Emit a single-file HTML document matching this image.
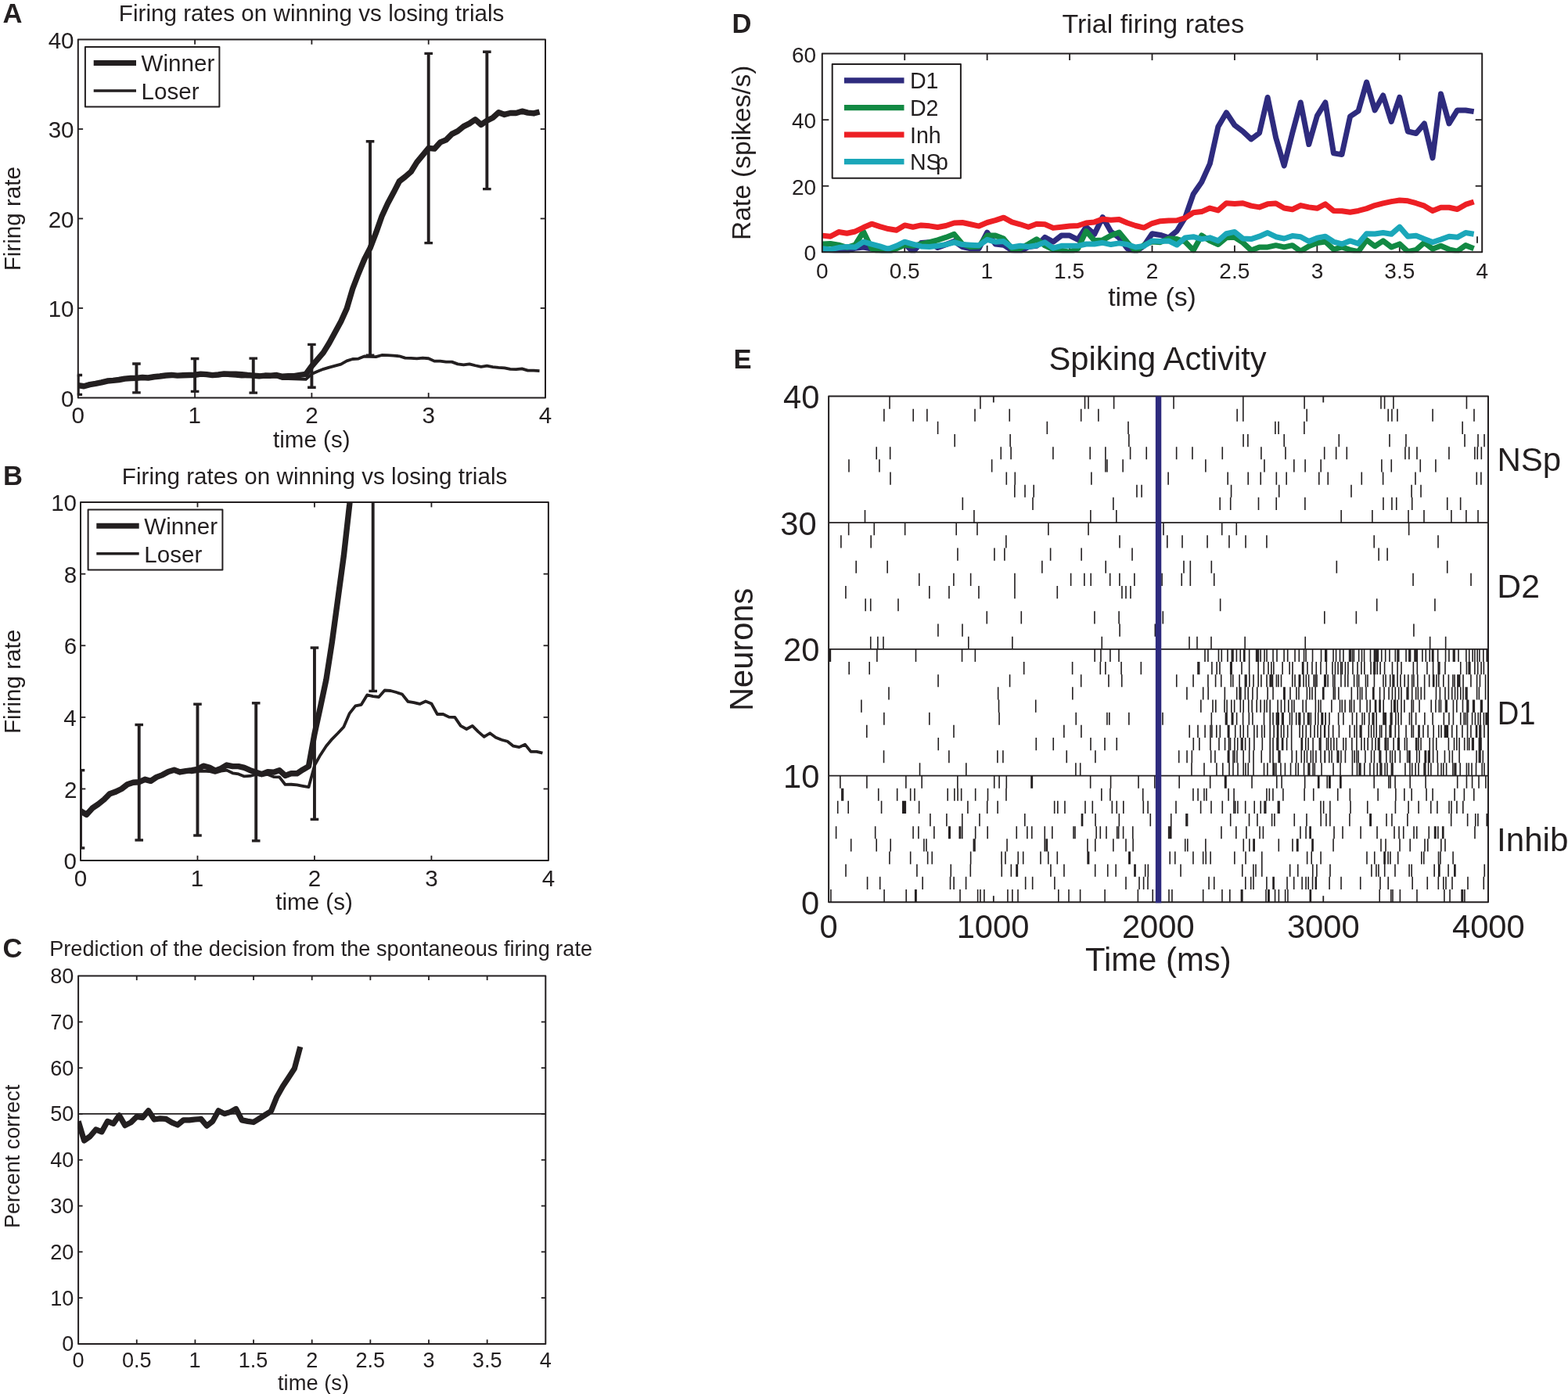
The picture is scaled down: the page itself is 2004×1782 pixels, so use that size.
<!DOCTYPE html>
<html lang="en"><head><meta charset="utf-8"><title>Figure</title>
<style>html,body{margin:0;padding:0;background:#fff}svg{display:block}text{font-family:'Liberation Sans', sans-serif;fill:#231f20}</style>
</head><body>
<svg width="2004" height="1782" viewBox="0 0 2004 1782">
<rect x="0" y="0" width="2004" height="1782" fill="#fff"/>
<defs>
<clipPath id="ca"><rect x="98.8" y="49.5" width="599.2" height="459.9"/></clipPath>
<clipPath id="cb"><rect x="102" y="641.1" width="599.9" height="459.95"/></clipPath>
<clipPath id="cc"><rect x="99.1" y="1246.6" width="599.2" height="472.3"/></clipPath>
<clipPath id="cd"><rect x="1049.8" y="67.6" width="845.4" height="255.75"/></clipPath>
<clipPath id="ce"><rect x="1059.1" y="506.5" width="842.9" height="646.7"/></clipPath>
</defs>
<text x="3.43" y="28.5" font-size="34.6" font-weight="bold" fill="#0a0a0a">A</text>
<text x="151.85" y="27.1" font-size="29.6" textLength="492.55" lengthAdjust="spacingAndGlyphs">Firing rates on winning vs losing trials</text>
<line x1="249.1" y1="508.4" x2="249.1" y2="502.1" stroke="#231f20" stroke-width="1.8" stroke-linecap="butt"/>
<line x1="249.1" y1="50.5" x2="249.1" y2="56.8" stroke="#231f20" stroke-width="1.8" stroke-linecap="butt"/>
<line x1="398.4" y1="508.4" x2="398.4" y2="502.1" stroke="#231f20" stroke-width="1.8" stroke-linecap="butt"/>
<line x1="398.4" y1="50.5" x2="398.4" y2="56.8" stroke="#231f20" stroke-width="1.8" stroke-linecap="butt"/>
<line x1="547.7" y1="508.4" x2="547.7" y2="502.1" stroke="#231f20" stroke-width="1.8" stroke-linecap="butt"/>
<line x1="547.7" y1="50.5" x2="547.7" y2="56.8" stroke="#231f20" stroke-width="1.8" stroke-linecap="butt"/>
<line x1="99.8" y1="393.92" x2="106.1" y2="393.92" stroke="#231f20" stroke-width="1.8" stroke-linecap="butt"/>
<line x1="697" y1="393.92" x2="690.7" y2="393.92" stroke="#231f20" stroke-width="1.8" stroke-linecap="butt"/>
<line x1="99.8" y1="279.45" x2="106.1" y2="279.45" stroke="#231f20" stroke-width="1.8" stroke-linecap="butt"/>
<line x1="697" y1="279.45" x2="690.7" y2="279.45" stroke="#231f20" stroke-width="1.8" stroke-linecap="butt"/>
<line x1="99.8" y1="164.98" x2="106.1" y2="164.98" stroke="#231f20" stroke-width="1.8" stroke-linecap="butt"/>
<line x1="697" y1="164.98" x2="690.7" y2="164.98" stroke="#231f20" stroke-width="1.8" stroke-linecap="butt"/>
<g clip-path="url(#ca)">
<line x1="99.8" y1="504.39" x2="99.8" y2="479.55" stroke="#231f20" stroke-width="3.9" stroke-linecap="butt"/>
<line x1="94.5" y1="504.39" x2="105.1" y2="504.39" stroke="#231f20" stroke-width="3.4" stroke-linecap="butt"/>
<line x1="94.5" y1="479.55" x2="105.1" y2="479.55" stroke="#231f20" stroke-width="3.4" stroke-linecap="butt"/>
</g>
<g clip-path="url(#ca)">
<line x1="174.45" y1="501.87" x2="174.45" y2="465.01" stroke="#231f20" stroke-width="3.9" stroke-linecap="butt"/>
<line x1="169.15" y1="501.87" x2="179.75" y2="501.87" stroke="#231f20" stroke-width="3.4" stroke-linecap="butt"/>
<line x1="169.15" y1="465.01" x2="179.75" y2="465.01" stroke="#231f20" stroke-width="3.4" stroke-linecap="butt"/>
</g>
<g clip-path="url(#ca)">
<line x1="249.1" y1="500.39" x2="249.1" y2="458.43" stroke="#231f20" stroke-width="3.9" stroke-linecap="butt"/>
<line x1="243.8" y1="500.39" x2="254.4" y2="500.39" stroke="#231f20" stroke-width="3.4" stroke-linecap="butt"/>
<line x1="243.8" y1="458.43" x2="254.4" y2="458.43" stroke="#231f20" stroke-width="3.4" stroke-linecap="butt"/>
</g>
<g clip-path="url(#ca)">
<line x1="323.75" y1="502.1" x2="323.75" y2="458.09" stroke="#231f20" stroke-width="3.9" stroke-linecap="butt"/>
<line x1="318.45" y1="502.1" x2="329.05" y2="502.1" stroke="#231f20" stroke-width="3.4" stroke-linecap="butt"/>
<line x1="318.45" y1="458.09" x2="329.05" y2="458.09" stroke="#231f20" stroke-width="3.4" stroke-linecap="butt"/>
</g>
<g clip-path="url(#ca)">
<line x1="398.4" y1="495.24" x2="398.4" y2="440.4" stroke="#231f20" stroke-width="3.9" stroke-linecap="butt"/>
<line x1="393.1" y1="495.24" x2="403.7" y2="495.24" stroke="#231f20" stroke-width="3.4" stroke-linecap="butt"/>
<line x1="393.1" y1="440.4" x2="403.7" y2="440.4" stroke="#231f20" stroke-width="3.4" stroke-linecap="butt"/>
</g>
<g clip-path="url(#ca)">
<line x1="473.05" y1="454.25" x2="473.05" y2="180.77" stroke="#231f20" stroke-width="3.9" stroke-linecap="butt"/>
<line x1="467.75" y1="454.25" x2="478.35" y2="454.25" stroke="#231f20" stroke-width="3.4" stroke-linecap="butt"/>
<line x1="467.75" y1="180.77" x2="478.35" y2="180.77" stroke="#231f20" stroke-width="3.4" stroke-linecap="butt"/>
</g>
<g clip-path="url(#ca)">
<line x1="547.7" y1="310.59" x2="547.7" y2="68.36" stroke="#231f20" stroke-width="3.9" stroke-linecap="butt"/>
<line x1="542.4" y1="310.59" x2="553" y2="310.59" stroke="#231f20" stroke-width="3.4" stroke-linecap="butt"/>
<line x1="542.4" y1="68.36" x2="553" y2="68.36" stroke="#231f20" stroke-width="3.4" stroke-linecap="butt"/>
</g>
<g clip-path="url(#ca)">
<line x1="622.35" y1="241.67" x2="622.35" y2="66.18" stroke="#231f20" stroke-width="3.9" stroke-linecap="butt"/>
<line x1="617.05" y1="241.67" x2="627.65" y2="241.67" stroke="#231f20" stroke-width="3.4" stroke-linecap="butt"/>
<line x1="617.05" y1="66.18" x2="627.65" y2="66.18" stroke="#231f20" stroke-width="3.4" stroke-linecap="butt"/>
</g>
<polyline points="99.8,492.55 107.27,493.75 114.73,491.69 122.2,490.43 129.66,488.94 137.12,487.05 144.59,486.42 152.06,485.5 159.52,484.07 166.99,483.44 174.45,483.33 181.92,482.47 189.38,482.99 196.85,481.73 204.31,481.04 211.78,480.01 219.24,479.44 226.71,480.12 234.17,479.78 241.63,480.24 249.1,479.9 256.56,479.78 264.03,479.9 271.5,480.35 278.96,479.78 286.43,479.55 293.89,480.47 301.36,480.75 308.82,481.5 316.29,481.38 323.75,480.87 331.22,481.15 338.68,480.87 346.15,481.67 353.61,481.73 361.08,484.13 368.54,484.07 376.01,484.25 383.47,484.59 390.94,484.93 398.4,478.06 405.87,474.69 413.33,471.83 420.8,469.59 428.26,467.7 435.73,465.7 443.19,461.35 450.66,459 458.12,458.6 465.59,455.51 473.05,455.91 480.52,456.14 487.98,454.02 495.45,454.14 502.91,454.65 510.38,455.28 517.84,457.63 525.31,457.92 532.77,458.37 540.24,457.52 547.7,458.26 555.17,461.64 562.63,461.64 570.1,462.55 577.56,462.61 585.02,465.36 592.49,466.39 599.96,465.36 607.42,467.25 614.88,468.85 622.35,467.7 629.82,469.08 637.28,469.82 644.75,470.34 652.21,471.83 659.67,472.17 667.14,471.31 674.61,473.6 682.07,473.6 689.54,474.06" fill="none" stroke="#231f20" stroke-width="3.8" stroke-linejoin="round" stroke-linecap="butt" clip-path="url(#ca)"/>
<polyline points="99.8,492.55 107.27,493.75 114.73,491.69 122.2,490.43 129.66,488.94 137.12,487.05 144.59,486.42 152.06,485.5 159.52,484.07 166.99,483.44 174.45,483.33 181.92,482.47 189.38,482.99 196.85,481.73 204.31,481.04 211.78,480.01 219.24,479.44 226.71,480.12 234.17,479.78 241.63,479.55 249.1,479.27 256.56,478.18 264.03,478.64 271.5,479.67 278.96,478.98 286.43,477.89 293.89,478.29 301.36,478.29 308.82,478.75 316.29,479.55 323.75,480.18 331.22,480.81 338.68,480.07 346.15,480.18 353.61,479.55 361.08,481.27 368.54,480.58 376.01,480.58 383.47,479.38 390.94,478.29 398.4,467.99 405.87,459.4 413.33,450.59 420.8,438.57 428.26,424.83 435.73,411.1 443.19,394.5 450.66,369.2 458.12,349.74 465.59,331.77 473.05,317.11 480.52,297.65 487.98,276.47 495.45,260.22 502.91,246.37 510.38,231.71 517.84,225.99 525.31,219.47 532.77,207.33 540.24,198.4 547.7,189.36 555.17,190.16 562.63,181.92 570.1,178.83 577.56,171.39 585.02,167.61 592.49,161.66 599.96,157.88 607.42,152.73 614.88,159.37 622.35,154.21 629.82,150.44 637.28,143.68 644.75,146.43 652.21,144.48 659.67,144.48 667.14,142.19 674.61,144.14 682.07,144.94 689.54,143" fill="none" stroke="#231f20" stroke-width="7.4" stroke-linejoin="round" stroke-linecap="butt" clip-path="url(#ca)"/>
<rect x="99.8" y="50.5" width="597.2" height="457.9" fill="none" stroke="#231f20" stroke-width="2" stroke-linejoin="round"/>
<text x="91.55" y="541.4" font-size="29.6">0</text>
<text x="240.48" y="541.4" font-size="29.6">1</text>
<text x="390.19" y="541.4" font-size="29.6">2</text>
<text x="539.56" y="541.4" font-size="29.6">3</text>
<text x="688.86" y="541.4" font-size="29.6">4</text>
<text x="94.54" y="519.6" font-size="29.6" text-anchor="end">0</text>
<text x="94.58" y="405.12" font-size="29.6" text-anchor="end">10</text>
<text x="94.58" y="290.65" font-size="29.6" text-anchor="end">20</text>
<text x="94.58" y="176.18" font-size="29.6" text-anchor="end">30</text>
<text x="94.58" y="61.7" font-size="29.6" text-anchor="end">40</text>
<text x="25.8" y="346.34" font-size="29.6" transform="rotate(-90 25.8 346.34)" textLength="133.25" lengthAdjust="spacingAndGlyphs">Firing rate</text>
<text x="349.06" y="571.5" font-size="29.6" textLength="98.51" lengthAdjust="spacingAndGlyphs">time (s)</text>
<rect x="108.9" y="59.9" width="171.5" height="76.6" fill="#fff" stroke="#231f20" stroke-width="2" stroke-linejoin="round"/>
<line x1="119.7" y1="80.6" x2="174" y2="80.6" stroke="#231f20" stroke-width="7" stroke-linecap="butt"/>
<text x="180.6" y="90.9" font-size="29.6">Winner</text>
<line x1="119.7" y1="116" x2="174" y2="116" stroke="#231f20" stroke-width="3.6" stroke-linecap="butt"/>
<text x="180.6" y="126.9" font-size="29.6">Loser</text>
<text x="3.96" y="620.2" font-size="34.6" font-weight="bold" fill="#0a0a0a">B</text>
<text x="155.86" y="619" font-size="29.6" textLength="492.45" lengthAdjust="spacingAndGlyphs">Firing rates on winning vs losing trials</text>
<line x1="252.47" y1="1100.05" x2="252.47" y2="1093.75" stroke="#231f20" stroke-width="1.8" stroke-linecap="butt"/>
<line x1="252.47" y1="642.1" x2="252.47" y2="648.4" stroke="#231f20" stroke-width="1.8" stroke-linecap="butt"/>
<line x1="401.95" y1="1100.05" x2="401.95" y2="1093.75" stroke="#231f20" stroke-width="1.8" stroke-linecap="butt"/>
<line x1="401.95" y1="642.1" x2="401.95" y2="648.4" stroke="#231f20" stroke-width="1.8" stroke-linecap="butt"/>
<line x1="551.42" y1="1100.05" x2="551.42" y2="1093.75" stroke="#231f20" stroke-width="1.8" stroke-linecap="butt"/>
<line x1="551.42" y1="642.1" x2="551.42" y2="648.4" stroke="#231f20" stroke-width="1.8" stroke-linecap="butt"/>
<line x1="103" y1="1008.46" x2="109.3" y2="1008.46" stroke="#231f20" stroke-width="1.8" stroke-linecap="butt"/>
<line x1="700.9" y1="1008.46" x2="694.6" y2="1008.46" stroke="#231f20" stroke-width="1.8" stroke-linecap="butt"/>
<line x1="103" y1="916.87" x2="109.3" y2="916.87" stroke="#231f20" stroke-width="1.8" stroke-linecap="butt"/>
<line x1="700.9" y1="916.87" x2="694.6" y2="916.87" stroke="#231f20" stroke-width="1.8" stroke-linecap="butt"/>
<line x1="103" y1="825.28" x2="109.3" y2="825.28" stroke="#231f20" stroke-width="1.8" stroke-linecap="butt"/>
<line x1="700.9" y1="825.28" x2="694.6" y2="825.28" stroke="#231f20" stroke-width="1.8" stroke-linecap="butt"/>
<line x1="103" y1="733.69" x2="109.3" y2="733.69" stroke="#231f20" stroke-width="1.8" stroke-linecap="butt"/>
<line x1="700.9" y1="733.69" x2="694.6" y2="733.69" stroke="#231f20" stroke-width="1.8" stroke-linecap="butt"/>
<g clip-path="url(#cb)">
<line x1="103" y1="1084.02" x2="103" y2="984.65" stroke="#231f20" stroke-width="3.9" stroke-linecap="butt"/>
<line x1="97.7" y1="1084.02" x2="108.3" y2="1084.02" stroke="#231f20" stroke-width="3.4" stroke-linecap="butt"/>
<line x1="97.7" y1="984.65" x2="108.3" y2="984.65" stroke="#231f20" stroke-width="3.4" stroke-linecap="butt"/>
</g>
<g clip-path="url(#cb)">
<line x1="177.74" y1="1073.95" x2="177.74" y2="926.49" stroke="#231f20" stroke-width="3.9" stroke-linecap="butt"/>
<line x1="172.44" y1="1073.95" x2="183.04" y2="1073.95" stroke="#231f20" stroke-width="3.4" stroke-linecap="butt"/>
<line x1="172.44" y1="926.49" x2="183.04" y2="926.49" stroke="#231f20" stroke-width="3.4" stroke-linecap="butt"/>
</g>
<g clip-path="url(#cb)">
<line x1="252.47" y1="1067.99" x2="252.47" y2="900.15" stroke="#231f20" stroke-width="3.9" stroke-linecap="butt"/>
<line x1="247.17" y1="1067.99" x2="257.77" y2="1067.99" stroke="#231f20" stroke-width="3.4" stroke-linecap="butt"/>
<line x1="247.17" y1="900.15" x2="257.77" y2="900.15" stroke="#231f20" stroke-width="3.4" stroke-linecap="butt"/>
</g>
<g clip-path="url(#cb)">
<line x1="327.21" y1="1074.86" x2="327.21" y2="898.78" stroke="#231f20" stroke-width="3.9" stroke-linecap="butt"/>
<line x1="321.91" y1="1074.86" x2="332.51" y2="1074.86" stroke="#231f20" stroke-width="3.4" stroke-linecap="butt"/>
<line x1="321.91" y1="898.78" x2="332.51" y2="898.78" stroke="#231f20" stroke-width="3.4" stroke-linecap="butt"/>
</g>
<g clip-path="url(#cb)">
<line x1="401.95" y1="1047.39" x2="401.95" y2="828.03" stroke="#231f20" stroke-width="3.9" stroke-linecap="butt"/>
<line x1="396.65" y1="1047.39" x2="407.25" y2="1047.39" stroke="#231f20" stroke-width="3.4" stroke-linecap="butt"/>
<line x1="396.65" y1="828.03" x2="407.25" y2="828.03" stroke="#231f20" stroke-width="3.4" stroke-linecap="butt"/>
</g>
<g clip-path="url(#cb)">
<line x1="476.69" y1="883.44" x2="476.69" y2="-210.6" stroke="#231f20" stroke-width="3.9" stroke-linecap="butt"/>
<line x1="471.39" y1="883.44" x2="481.99" y2="883.44" stroke="#231f20" stroke-width="3.4" stroke-linecap="butt"/>
<line x1="471.39" y1="-210.6" x2="481.99" y2="-210.6" stroke="#231f20" stroke-width="3.4" stroke-linecap="butt"/>
</g>
<g clip-path="url(#cb)">
<line x1="551.42" y1="308.71" x2="551.42" y2="-660.31" stroke="#231f20" stroke-width="3.9" stroke-linecap="butt"/>
<line x1="546.12" y1="308.71" x2="556.72" y2="308.71" stroke="#231f20" stroke-width="3.4" stroke-linecap="butt"/>
<line x1="546.12" y1="-660.31" x2="556.72" y2="-660.31" stroke="#231f20" stroke-width="3.4" stroke-linecap="butt"/>
</g>
<g clip-path="url(#cb)">
<line x1="626.16" y1="33.03" x2="626.16" y2="-669.01" stroke="#231f20" stroke-width="3.9" stroke-linecap="butt"/>
<line x1="620.86" y1="33.03" x2="631.46" y2="33.03" stroke="#231f20" stroke-width="3.4" stroke-linecap="butt"/>
<line x1="620.86" y1="-669.01" x2="631.46" y2="-669.01" stroke="#231f20" stroke-width="3.4" stroke-linecap="butt"/>
</g>
<polyline points="103,1036.62 110.47,1041.43 117.95,1033.19 125.42,1028.15 132.9,1022.2 140.37,1014.64 147.84,1012.12 155.32,1008.46 162.79,1002.74 170.26,1000.22 177.74,999.76 185.21,996.32 192.69,998.39 200.16,993.35 207.63,990.6 215.11,986.48 222.58,984.19 230.05,986.94 237.53,985.56 245,987.39 252.47,986.02 259.95,985.56 267.42,986.02 274.9,987.85 282.37,985.56 289.84,984.65 297.32,988.31 304.79,989.46 312.26,992.43 319.74,991.97 327.21,989.91 334.69,991.06 342.16,989.91 349.63,993.12 357.11,993.35 364.58,1002.96 372.06,1002.74 379.53,1003.42 387,1004.8 394.48,1006.17 401.95,978.69 409.42,965.18 416.9,953.73 424.37,944.8 431.85,937.25 439.32,929.23 446.79,911.83 454.27,902.44 461.74,900.84 469.21,888.48 476.69,890.08 484.16,891 491.63,882.52 499.11,882.98 506.58,885.04 514.06,887.56 521.53,896.95 529,898.09 536.48,899.93 543.95,896.49 551.42,899.47 558.9,912.98 566.37,912.98 573.85,916.64 581.32,916.87 588.79,927.86 596.27,931.98 603.74,927.86 611.22,935.42 618.69,941.83 626.16,937.25 633.64,942.74 641.11,945.72 648.58,947.78 656.06,953.73 663.53,955.11 671,951.67 678.48,960.83 685.95,960.83 693.43,962.66" fill="none" stroke="#231f20" stroke-width="3.8" stroke-linejoin="round" stroke-linecap="butt" clip-path="url(#cb)"/>
<polyline points="103,1036.62 110.47,1041.43 117.95,1033.19 125.42,1028.15 132.9,1022.2 140.37,1014.64 147.84,1012.12 155.32,1008.46 162.79,1002.74 170.26,1000.22 177.74,999.76 185.21,996.32 192.69,998.39 200.16,993.35 207.63,990.6 215.11,986.48 222.58,984.19 230.05,986.94 237.53,985.56 245,984.65 252.47,983.5 259.95,979.15 267.42,980.98 274.9,985.1 282.37,982.36 289.84,978.01 297.32,979.61 304.79,979.61 312.26,981.44 319.74,984.65 327.21,987.17 334.69,989.68 342.16,986.71 349.63,987.17 357.11,984.65 364.58,991.52 372.06,988.77 379.53,988.77 387,983.96 394.48,979.61 401.95,938.39 409.42,904.05 416.9,868.79 424.37,820.7 431.85,765.75 439.32,710.79 446.79,644.39 454.27,543.18 461.74,465.33 469.21,393.43 476.69,334.82 484.16,256.96 491.63,172.24 499.11,107.21 506.58,51.8 514.06,-6.82 521.53,-29.71 529,-55.82 536.48,-104.36 543.95,-140.08 551.42,-176.26 558.9,-173.05 566.37,-206.02 573.85,-218.39 581.32,-248.15 588.79,-263.27 596.27,-287.08 603.74,-302.19 611.22,-322.8 618.69,-296.24 626.16,-316.85 633.64,-331.96 641.11,-358.98 648.58,-347.99 656.06,-355.77 663.53,-355.77 671,-364.93 678.48,-357.15 685.95,-353.94 693.43,-361.73" fill="none" stroke="#231f20" stroke-width="7.4" stroke-linejoin="round" stroke-linecap="butt" clip-path="url(#cb)"/>
<rect x="103" y="642.1" width="597.9" height="457.95" fill="none" stroke="#231f20" stroke-width="2" stroke-linejoin="round"/>
<text x="94.75" y="1133.05" font-size="29.6">0</text>
<text x="243.85" y="1133.05" font-size="29.6">1</text>
<text x="393.74" y="1133.05" font-size="29.6">2</text>
<text x="543.28" y="1133.05" font-size="29.6">3</text>
<text x="692.76" y="1133.05" font-size="29.6">4</text>
<text x="98.04" y="1111.25" font-size="29.6" text-anchor="end">0</text>
<text x="98.41" y="1019.66" font-size="29.6" text-anchor="end">2</text>
<text x="97.75" y="928.07" font-size="29.6" text-anchor="end">4</text>
<text x="98.19" y="836.48" font-size="29.6" text-anchor="end">6</text>
<text x="98.19" y="744.89" font-size="29.6" text-anchor="end">8</text>
<text x="98.08" y="653.3" font-size="29.6" text-anchor="end">10</text>
<text x="25.8" y="937.99" font-size="29.6" transform="rotate(-90 25.8 937.99)" textLength="133.25" lengthAdjust="spacingAndGlyphs">Firing rate</text>
<text x="352.26" y="1163.15" font-size="29.6" textLength="98.51" lengthAdjust="spacingAndGlyphs">time (s)</text>
<rect x="112.6" y="651.6" width="171.8" height="76.9" fill="#fff" stroke="#231f20" stroke-width="2" stroke-linejoin="round"/>
<line x1="123.3" y1="672.3" x2="177.7" y2="672.3" stroke="#231f20" stroke-width="7" stroke-linecap="butt"/>
<text x="184.3" y="682.7" font-size="29.6">Winner</text>
<line x1="123.3" y1="707.8" x2="177.7" y2="707.8" stroke="#231f20" stroke-width="3.6" stroke-linecap="butt"/>
<text x="184.3" y="718.5" font-size="29.6">Loser</text>
<text x="3.62" y="1224.2" font-size="34.6" font-weight="bold" fill="#0a0a0a">C</text>
<text x="63.16" y="1222.3" font-size="27.1" textLength="693.93" lengthAdjust="spacingAndGlyphs">Prediction of the decision from the spontaneous firing rate</text>
<line x1="174.75" y1="1717.9" x2="174.75" y2="1712.4" stroke="#231f20" stroke-width="1.8" stroke-linecap="butt"/>
<line x1="174.75" y1="1247.6" x2="174.75" y2="1253.1" stroke="#231f20" stroke-width="1.8" stroke-linecap="butt"/>
<line x1="249.4" y1="1717.9" x2="249.4" y2="1712.4" stroke="#231f20" stroke-width="1.8" stroke-linecap="butt"/>
<line x1="249.4" y1="1247.6" x2="249.4" y2="1253.1" stroke="#231f20" stroke-width="1.8" stroke-linecap="butt"/>
<line x1="324.05" y1="1717.9" x2="324.05" y2="1712.4" stroke="#231f20" stroke-width="1.8" stroke-linecap="butt"/>
<line x1="324.05" y1="1247.6" x2="324.05" y2="1253.1" stroke="#231f20" stroke-width="1.8" stroke-linecap="butt"/>
<line x1="398.7" y1="1717.9" x2="398.7" y2="1712.4" stroke="#231f20" stroke-width="1.8" stroke-linecap="butt"/>
<line x1="398.7" y1="1247.6" x2="398.7" y2="1253.1" stroke="#231f20" stroke-width="1.8" stroke-linecap="butt"/>
<line x1="473.35" y1="1717.9" x2="473.35" y2="1712.4" stroke="#231f20" stroke-width="1.8" stroke-linecap="butt"/>
<line x1="473.35" y1="1247.6" x2="473.35" y2="1253.1" stroke="#231f20" stroke-width="1.8" stroke-linecap="butt"/>
<line x1="548" y1="1717.9" x2="548" y2="1712.4" stroke="#231f20" stroke-width="1.8" stroke-linecap="butt"/>
<line x1="548" y1="1247.6" x2="548" y2="1253.1" stroke="#231f20" stroke-width="1.8" stroke-linecap="butt"/>
<line x1="622.65" y1="1717.9" x2="622.65" y2="1712.4" stroke="#231f20" stroke-width="1.8" stroke-linecap="butt"/>
<line x1="622.65" y1="1247.6" x2="622.65" y2="1253.1" stroke="#231f20" stroke-width="1.8" stroke-linecap="butt"/>
<line x1="100.1" y1="1659.11" x2="105.6" y2="1659.11" stroke="#231f20" stroke-width="1.8" stroke-linecap="butt"/>
<line x1="697.3" y1="1659.11" x2="691.8" y2="1659.11" stroke="#231f20" stroke-width="1.8" stroke-linecap="butt"/>
<line x1="100.1" y1="1600.33" x2="105.6" y2="1600.33" stroke="#231f20" stroke-width="1.8" stroke-linecap="butt"/>
<line x1="697.3" y1="1600.33" x2="691.8" y2="1600.33" stroke="#231f20" stroke-width="1.8" stroke-linecap="butt"/>
<line x1="100.1" y1="1541.54" x2="105.6" y2="1541.54" stroke="#231f20" stroke-width="1.8" stroke-linecap="butt"/>
<line x1="697.3" y1="1541.54" x2="691.8" y2="1541.54" stroke="#231f20" stroke-width="1.8" stroke-linecap="butt"/>
<line x1="100.1" y1="1482.75" x2="105.6" y2="1482.75" stroke="#231f20" stroke-width="1.8" stroke-linecap="butt"/>
<line x1="697.3" y1="1482.75" x2="691.8" y2="1482.75" stroke="#231f20" stroke-width="1.8" stroke-linecap="butt"/>
<line x1="100.1" y1="1423.96" x2="105.6" y2="1423.96" stroke="#231f20" stroke-width="1.8" stroke-linecap="butt"/>
<line x1="697.3" y1="1423.96" x2="691.8" y2="1423.96" stroke="#231f20" stroke-width="1.8" stroke-linecap="butt"/>
<line x1="100.1" y1="1365.17" x2="105.6" y2="1365.17" stroke="#231f20" stroke-width="1.8" stroke-linecap="butt"/>
<line x1="697.3" y1="1365.17" x2="691.8" y2="1365.17" stroke="#231f20" stroke-width="1.8" stroke-linecap="butt"/>
<line x1="100.1" y1="1306.39" x2="105.6" y2="1306.39" stroke="#231f20" stroke-width="1.8" stroke-linecap="butt"/>
<line x1="697.3" y1="1306.39" x2="691.8" y2="1306.39" stroke="#231f20" stroke-width="1.8" stroke-linecap="butt"/>
<line x1="100.1" y1="1423.96" x2="697.3" y2="1423.96" stroke="#231f20" stroke-width="1.8" stroke-linecap="butt"/>
<polyline points="100.1,1433.37 107.56,1458.06 115.03,1452.77 122.49,1443.95 129.96,1446.89 137.42,1433.37 144.89,1436.31 152.35,1425.73 159.82,1438.66 167.28,1434.84 174.75,1427.49 182.21,1428.67 189.68,1419.85 197.14,1431.02 204.61,1429.84 212.07,1430.43 219.54,1434.84 227,1438.07 234.47,1431.9 241.93,1431.9 249.4,1431.02 256.87,1430.43 264.33,1439.25 271.79,1433.37 279.26,1419.85 286.72,1423.67 294.19,1421.61 301.65,1417.5 309.12,1431.9 316.59,1433.37 324.05,1434.54 331.51,1429.84 338.98,1425.14 346.44,1420.44 353.91,1401.92 361.38,1388.69 368.84,1377.52 376.3,1366.06 383.77,1338.13" fill="none" stroke="#231f20" stroke-width="7.2" stroke-linejoin="round" stroke-linecap="butt" clip-path="url(#cc)"/>
<rect x="100.1" y="1247.6" width="597.2" height="470.3" fill="none" stroke="#231f20" stroke-width="2" stroke-linejoin="round"/>
<text x="92.55" y="1747.6" font-size="27.1">0</text>
<text x="155.92" y="1747.6" font-size="27.1">0.5</text>
<text x="241.51" y="1747.6" font-size="27.1">1</text>
<text x="304.74" y="1747.6" font-size="27.1">1.5</text>
<text x="391.18" y="1747.6" font-size="27.1">2</text>
<text x="454.38" y="1747.6" font-size="27.1">2.5</text>
<text x="540.55" y="1747.6" font-size="27.1">3</text>
<text x="603.85" y="1747.6" font-size="27.1">3.5</text>
<text x="689.85" y="1747.6" font-size="27.1">4</text>
<text x="94.4" y="1727.4" font-size="27.1" text-anchor="end">0</text>
<text x="94.43" y="1668.61" font-size="27.1" text-anchor="end">10</text>
<text x="94.43" y="1609.83" font-size="27.1" text-anchor="end">20</text>
<text x="94.43" y="1551.04" font-size="27.1" text-anchor="end">30</text>
<text x="94.43" y="1492.25" font-size="27.1" text-anchor="end">40</text>
<text x="94.43" y="1433.46" font-size="27.1" text-anchor="end">50</text>
<text x="94.43" y="1374.67" font-size="27.1" text-anchor="end">60</text>
<text x="94.43" y="1315.89" font-size="27.1" text-anchor="end">70</text>
<text x="94.43" y="1257.1" font-size="27.1" text-anchor="end">80</text>
<text x="24.55" y="1570.03" font-size="27.1" transform="rotate(-90 24.55 1570.03)" textLength="183.45" lengthAdjust="spacingAndGlyphs">Percent correct</text>
<text x="354.99" y="1776.5" font-size="27.1" textLength="91.03" lengthAdjust="spacingAndGlyphs">time (s)</text>
<text x="935.46" y="41.7" font-size="34.6" font-weight="bold" fill="#0a0a0a">D</text>
<text x="1357.44" y="41.65" font-size="33.8" textLength="232.71" lengthAdjust="spacingAndGlyphs">Trial firing rates</text>
<line x1="1156.22" y1="322.35" x2="1156.22" y2="313.85" stroke="#231f20" stroke-width="1.8" stroke-linecap="butt"/>
<line x1="1156.22" y1="68.6" x2="1156.22" y2="77.1" stroke="#231f20" stroke-width="1.8" stroke-linecap="butt"/>
<line x1="1261.65" y1="322.35" x2="1261.65" y2="313.85" stroke="#231f20" stroke-width="1.8" stroke-linecap="butt"/>
<line x1="1261.65" y1="68.6" x2="1261.65" y2="77.1" stroke="#231f20" stroke-width="1.8" stroke-linecap="butt"/>
<line x1="1367.08" y1="322.35" x2="1367.08" y2="313.85" stroke="#231f20" stroke-width="1.8" stroke-linecap="butt"/>
<line x1="1367.08" y1="68.6" x2="1367.08" y2="77.1" stroke="#231f20" stroke-width="1.8" stroke-linecap="butt"/>
<line x1="1472.5" y1="322.35" x2="1472.5" y2="313.85" stroke="#231f20" stroke-width="1.8" stroke-linecap="butt"/>
<line x1="1472.5" y1="68.6" x2="1472.5" y2="77.1" stroke="#231f20" stroke-width="1.8" stroke-linecap="butt"/>
<line x1="1577.92" y1="322.35" x2="1577.92" y2="313.85" stroke="#231f20" stroke-width="1.8" stroke-linecap="butt"/>
<line x1="1577.92" y1="68.6" x2="1577.92" y2="77.1" stroke="#231f20" stroke-width="1.8" stroke-linecap="butt"/>
<line x1="1683.35" y1="322.35" x2="1683.35" y2="313.85" stroke="#231f20" stroke-width="1.8" stroke-linecap="butt"/>
<line x1="1683.35" y1="68.6" x2="1683.35" y2="77.1" stroke="#231f20" stroke-width="1.8" stroke-linecap="butt"/>
<line x1="1788.78" y1="322.35" x2="1788.78" y2="313.85" stroke="#231f20" stroke-width="1.8" stroke-linecap="butt"/>
<line x1="1788.78" y1="68.6" x2="1788.78" y2="77.1" stroke="#231f20" stroke-width="1.8" stroke-linecap="butt"/>
<line x1="1050.8" y1="237.77" x2="1059.3" y2="237.77" stroke="#231f20" stroke-width="1.8" stroke-linecap="butt"/>
<line x1="1894.2" y1="237.77" x2="1885.7" y2="237.77" stroke="#231f20" stroke-width="1.8" stroke-linecap="butt"/>
<line x1="1050.8" y1="153.18" x2="1059.3" y2="153.18" stroke="#231f20" stroke-width="1.8" stroke-linecap="butt"/>
<line x1="1894.2" y1="153.18" x2="1885.7" y2="153.18" stroke="#231f20" stroke-width="1.8" stroke-linecap="butt"/>
<line x1="1888" y1="302.2" x2="1888" y2="310.8" stroke="#231f20" stroke-width="1.8" stroke-linecap="butt"/>
<polyline points="1050.8,318.12 1061.34,319.81 1071.88,321.08 1082.43,321.08 1092.97,317.28 1103.51,316.01 1114.06,318.12 1124.6,319.81 1135.14,322.35 1145.68,316.01 1156.22,311.35 1166.77,321.93 1177.31,310.51 1187.85,309.66 1198.39,316.6 1208.94,312.62 1219.48,308.39 1230.02,315.58 1240.57,317.7 1251.11,317.7 1261.65,297.1 1272.19,312.03 1282.73,313.17 1293.28,320.07 1303.82,321.21 1314.36,315.58 1324.9,314.31 1335.45,303.4 1345.99,309.16 1356.53,301.12 1367.08,301.12 1377.62,306.28 1388.16,290.21 1398.7,299.39 1409.24,277.61 1419.79,295.96 1430.33,304 1440.87,317.7 1451.41,321.76 1461.96,314.31 1472.5,298.71 1483.04,300.44 1493.59,303.87 1504.13,295.28 1514.67,278.07 1525.21,247.92 1535.76,232.69 1546.3,209.43 1556.84,161.94 1567.38,143.96 1577.92,159.95 1588.47,167.99 1599.01,177.92 1609.55,169.93 1620.1,124.47 1630.64,175.94 1641.18,211.88 1651.72,170.1 1662.27,130.98 1672.81,184.48 1683.35,148.11 1693.89,130.98 1704.43,195.9 1714.98,197.59 1725.52,148.95 1736.06,141.93 1746.61,105.01 1757.15,140.92 1767.69,122.01 1778.23,155.47 1788.78,124.43 1799.32,167.99 1809.86,170.52 1820.4,157.96 1830.95,201.9 1841.49,119.98 1852.03,157.96 1862.57,140.92 1873.12,140.92 1883.66,142.61" fill="none" stroke="#2e2b7e" stroke-width="7" stroke-linejoin="round" stroke-linecap="butt" clip-path="url(#cd)"/>
<polyline points="1050.8,312.03 1061.34,311.44 1071.88,313.17 1082.43,316.43 1092.97,313.05 1103.51,296.13 1114.06,317.7 1124.6,322.35 1135.14,322.35 1145.68,317.7 1156.22,313.05 1166.77,314.31 1177.31,312.03 1187.85,309.75 1198.39,306.87 1208.94,303.4 1219.48,299.39 1230.02,312.03 1240.57,315.58 1251.11,314.91 1261.65,301.12 1272.19,301.12 1282.73,305.14 1293.28,317.7 1303.82,317.7 1314.36,312.03 1324.9,305.73 1335.45,313.89 1345.99,318.97 1356.53,320.07 1367.08,322.35 1377.62,317.7 1388.16,295.37 1398.7,307.55 1409.24,306.87 1419.79,301.12 1430.33,297.1 1440.87,309.75 1451.41,321.21 1461.96,313.17 1472.5,309.03 1483.04,309.66 1493.59,305.01 1504.13,305.6 1514.67,309.03 1525.21,319.94 1535.76,300.99 1546.3,307.89 1556.84,312.5 1567.38,303.87 1577.92,303.32 1588.47,310.17 1599.01,319.94 1609.55,315.92 1620.1,315.92 1630.64,313.64 1641.18,315.92 1651.72,313.64 1662.27,321.08 1672.81,314.78 1683.35,310.51 1693.89,309.03 1704.43,318.8 1714.98,315.92 1725.52,319.35 1736.06,321.67 1746.61,306.74 1757.15,314.78 1767.69,307.89 1778.23,315.92 1788.78,311.9 1799.32,321.67 1809.86,319.35 1820.4,310.17 1830.95,318.21 1841.49,314.19 1852.03,318.8 1862.57,321.08 1873.12,313.64 1883.66,317.66" fill="none" stroke="#128943" stroke-width="7" stroke-linejoin="round" stroke-linecap="butt" clip-path="url(#cd)"/>
<polyline points="1050.8,301.12 1061.34,302.26 1071.88,296.55 1082.43,298.24 1092.97,295.96 1103.51,290.8 1114.06,286.19 1124.6,289.66 1135.14,292.53 1145.68,294.23 1156.22,287.92 1166.77,290.21 1177.31,287.92 1187.85,288.86 1198.39,290.46 1208.94,288.52 1219.48,285.05 1230.02,284.5 1240.57,286.78 1251.11,289.07 1261.65,284.5 1272.19,281.62 1282.73,278.2 1293.28,283.91 1303.82,286.78 1314.36,290.21 1324.9,286.19 1335.45,286.78 1345.99,291.39 1356.53,290.21 1367.08,289.07 1377.62,288.52 1388.16,285.05 1398.7,283.91 1409.24,280.14 1419.79,281.28 1430.33,280.48 1440.87,285.05 1451.41,288.52 1461.96,291.05 1472.5,285.51 1483.04,282.64 1493.59,282.09 1504.13,281.75 1514.67,278.62 1525.21,271.77 1535.76,270.59 1546.3,266.02 1556.84,268.89 1567.38,259.72 1577.92,260.52 1588.47,259.72 1599.01,263.14 1609.55,264.88 1620.1,260.86 1630.64,260.05 1641.18,266.02 1651.72,267.75 1662.27,262.59 1672.81,264.88 1683.35,266.31 1693.89,260.86 1704.43,269.44 1714.98,269.7 1725.52,271.18 1736.06,269.44 1746.61,266.61 1757.15,262.59 1767.69,259.93 1778.23,257.64 1788.78,256.04 1799.32,256.84 1809.86,259.72 1820.4,263.14 1830.95,269.44 1841.49,265.21 1852.03,265.21 1862.57,267.5 1873.12,261.41 1883.66,257.98" fill="none" stroke="#ed1f24" stroke-width="7" stroke-linejoin="round" stroke-linecap="butt" clip-path="url(#cd)"/>
<polyline points="1050.8,317.74 1061.34,318.92 1071.88,316.6 1082.43,315.46 1092.97,316.05 1103.51,309.16 1114.06,312.03 1124.6,314.91 1135.14,318.33 1145.68,314.31 1156.22,309.16 1166.77,312.03 1177.31,314.91 1187.85,315.46 1198.39,314.31 1208.94,312.58 1219.48,309.75 1230.02,312.58 1240.57,313.17 1251.11,313.76 1261.65,306.28 1272.19,309.16 1282.73,308.56 1293.28,316.05 1303.82,314.31 1314.36,315.46 1324.9,313.76 1335.45,309.75 1345.99,317.19 1356.53,314.31 1367.08,314.31 1377.62,314.31 1388.16,312.03 1398.7,312.03 1409.24,310.3 1419.79,312.58 1430.33,310.89 1440.87,312.58 1451.41,316.05 1461.96,314.53 1472.5,307.89 1483.04,308.48 1493.59,307.89 1504.13,313.05 1514.67,303.87 1525.21,302.73 1535.76,305.6 1546.3,303.87 1556.84,307.89 1567.38,298.71 1577.92,296.43 1588.47,305.01 1599.01,305.6 1609.55,302.18 1620.1,297.57 1630.64,302.73 1641.18,305.01 1651.72,301.58 1662.27,302.73 1672.81,308.48 1683.35,304.16 1693.89,302.18 1704.43,309.03 1714.98,311.9 1725.52,307.89 1736.06,311.35 1746.61,298.71 1757.15,299.05 1767.69,297.57 1778.23,299.3 1788.78,290.12 1799.32,302.18 1809.86,301.25 1820.4,305.6 1830.95,309.62 1841.49,306.15 1852.03,302.18 1862.57,303.32 1873.12,297.57 1883.66,299.3" fill="none" stroke="#1ba7b9" stroke-width="7" stroke-linejoin="round" stroke-linecap="butt" clip-path="url(#cd)"/>
<rect x="1050.8" y="68.6" width="843.4" height="253.75" fill="none" stroke="#231f20" stroke-width="2" stroke-linejoin="round"/>
<text x="1042.99" y="356.15" font-size="28">0</text>
<text x="1136.76" y="356.15" font-size="28">0.5</text>
<text x="1253.5" y="356.15" font-size="28">1</text>
<text x="1347.12" y="356.15" font-size="28">1.5</text>
<text x="1464.73" y="356.15" font-size="28">2</text>
<text x="1558.33" y="356.15" font-size="28">2.5</text>
<text x="1675.65" y="356.15" font-size="28">3</text>
<text x="1769.35" y="356.15" font-size="28">3.5</text>
<text x="1886.5" y="356.15" font-size="28">4</text>
<text x="1043.08" y="333.45" font-size="28" text-anchor="end">0</text>
<text x="1043.12" y="248.87" font-size="28" text-anchor="end">20</text>
<text x="1043.12" y="164.28" font-size="28" text-anchor="end">40</text>
<text x="1043.12" y="79.7" font-size="28" text-anchor="end">60</text>
<text x="959.5" y="306.96" font-size="33.8" transform="rotate(-90 959.5 306.96)" textLength="223.4" lengthAdjust="spacingAndGlyphs">Rate (spikes/s)</text>
<text x="1416.19" y="391.1" font-size="33.8" textLength="112.64" lengthAdjust="spacingAndGlyphs">time (s)</text>
<rect x="1063.7" y="82" width="164.2" height="145.7" fill="#fff" stroke="#231f20" stroke-width="2" stroke-linejoin="round"/>
<line x1="1078.9" y1="102.9" x2="1155.5" y2="102.9" stroke="#2e2b7e" stroke-width="7.2" stroke-linecap="butt"/>
<text x="1162.94" y="113.4" font-size="28.6">D1</text>
<line x1="1078.9" y1="137.6" x2="1155.5" y2="137.6" stroke="#128943" stroke-width="7.2" stroke-linecap="butt"/>
<text x="1162.94" y="147.8" font-size="28.6">D2</text>
<line x1="1078.9" y1="172.1" x2="1155.5" y2="172.1" stroke="#ed1f24" stroke-width="7.2" stroke-linecap="butt"/>
<text x="1162.94" y="182.6" font-size="28.6">Inh</text>
<line x1="1078.9" y1="206.7" x2="1155.5" y2="206.7" stroke="#1ba7b9" stroke-width="7.2" stroke-linecap="butt"/>
<text x="1162.94" y="217.0" font-size="28.6">NS<tspan dx="-6.6">p</tspan></text>
<text x="937.46" y="471.3" font-size="34.6" font-weight="bold" fill="#0a0a0a">E</text>
<text x="1340.52" y="473.4" font-size="41.7" textLength="278.17" lengthAdjust="spacingAndGlyphs">Spiking Activity</text>
<line x1="1269.82" y1="1153.2" x2="1269.82" y2="1145.2" stroke="#231f20" stroke-width="1.8" stroke-linecap="butt"/>
<line x1="1269.82" y1="506.5" x2="1269.82" y2="514.5" stroke="#231f20" stroke-width="1.8" stroke-linecap="butt"/>
<line x1="1480.55" y1="1153.2" x2="1480.55" y2="1145.2" stroke="#231f20" stroke-width="1.8" stroke-linecap="butt"/>
<line x1="1480.55" y1="506.5" x2="1480.55" y2="514.5" stroke="#231f20" stroke-width="1.8" stroke-linecap="butt"/>
<line x1="1691.28" y1="1153.2" x2="1691.28" y2="1145.2" stroke="#231f20" stroke-width="1.8" stroke-linecap="butt"/>
<line x1="1691.28" y1="506.5" x2="1691.28" y2="514.5" stroke="#231f20" stroke-width="1.8" stroke-linecap="butt"/>
<path d="M1137.01 506.5v16.17M1252.94 506.5v16.17M1386.53 506.5v16.17M1391.03 506.5v16.17M1423.63 506.5v16.17M1500.03 506.5v16.17M1588.84 506.5v16.17M1667.12 506.5v16.17M1764.98 506.5v16.17M1769.59 506.5v16.17M1780.9 506.5v16.17M1874.43 506.5v16.17M1129.87 522.67v16.17M1167.2 522.67v16.17M1184.87 522.67v16.17M1246.02 522.67v16.17M1290.25 522.67v16.17M1381.7 522.67v16.17M1403.87 522.67v16.17M1581.16 522.67v16.17M1588.84 522.67v16.17M1670.19 522.67v16.17M1774.2 522.67v16.17M1778.92 522.67v16.17M1785.95 522.67v16.17M1831.07 522.67v16.17M1883.98 522.67v16.17M1198.59 538.84v16.17M1338.33 538.84v16.17M1441.97 538.84v16.17M1629.9 538.84v16.17M1634.07 538.84v16.17M1666.9 538.84v16.17M1869.16 538.84v16.17M1220.22 555v16.17M1291.13 555v16.17M1442.85 555v16.17M1589.06 555v16.17M1594.88 555v16.17M1641.21 555v16.17M1711.3 555v16.17M1775.96 555v16.17M1796.93 555v16.17M1872.02 555v16.17M1889.03 555v16.17M1897.05 555v16.17M1120.21 571.17v16.17M1137.67 571.17v16.17M1279.27 571.17v16.17M1292.12 571.17v16.17M1345.91 571.17v16.17M1393.22 571.17v16.17M1412.88 571.17v16.17M1444.6 571.17v16.17M1465.24 571.17v16.17M1503.65 571.17v16.17M1523.96 571.17v16.17M1562.28 571.17v16.17M1611.9 571.17v16.17M1642.97 571.17v16.17M1692.7 571.17v16.17M1707.67 571.17v16.17M1721.29 571.17v16.17M1795.94 571.17v16.17M1800.88 571.17v16.17M1810.98 571.17v16.17M1851.93 571.17v16.17M1884.86 571.17v16.17M1888.27 571.17v16.17M1893.32 571.17v16.17M1084.97 587.34v16.17M1123.94 587.34v16.17M1267.65 587.34v16.17M1412.88 587.34v16.17M1414.96 587.34v16.17M1435.16 587.34v16.17M1540.87 587.34v16.17M1615.96 587.34v16.17M1653.83 587.34v16.17M1668.11 587.34v16.17M1688.2 587.34v16.17M1765.86 587.34v16.17M1778.26 587.34v16.17M1815.26 587.34v16.17M1834.91 587.34v16.17M1137.99 603.5v16.17M1286.3 603.5v16.17M1297.28 603.5v16.17M1394.87 603.5v16.17M1493.11 603.5v16.17M1569.19 603.5v16.17M1595.21 603.5v16.17M1611.24 603.5v16.17M1631.33 603.5v16.17M1644.17 603.5v16.17M1685.78 603.5v16.17M1697.25 603.5v16.17M1740.28 603.5v16.17M1767.62 603.5v16.17M1809 603.5v16.17M1887.28 603.5v16.17M1892.88 603.5v16.17M1296.84 619.67v16.17M1310.01 619.67v16.17M1321.21 619.67v16.17M1452.95 619.67v16.17M1459.09 619.67v16.17M1573.58 619.67v16.17M1634.73 619.67v16.17M1727 619.67v16.17M1804.06 619.67v16.17M1816.03 619.67v16.17M1230.32 635.84v16.17M1320 635.84v16.17M1422.87 635.84v16.17M1559.2 635.84v16.17M1572.71 635.84v16.17M1608.49 635.84v16.17M1631.22 635.84v16.17M1667.89 635.84v16.17M1767.94 635.84v16.17M1778.92 635.84v16.17M1784.74 635.84v16.17M1804.72 635.84v16.17M1849.73 635.84v16.17M1866.64 635.84v16.17M1105.5 652.01v16.17M1244.92 652.01v16.17M1393.88 652.01v16.17M1426.82 652.01v16.17M1714.15 652.01v16.17M1753.89 652.01v16.17M1800 652.01v16.17M1819.98 652.01v16.17M1854.89 652.01v16.17M1873.88 652.01v16.17M1889.03 652.01v16.17M1084.64 668.17v16.17M1117.25 668.17v16.17M1156.66 668.17v16.17M1222.2 668.17v16.17M1248.98 668.17v16.17M1339.87 668.17v16.17M1391.03 668.17v16.17M1486.97 668.17v16.17M1561.73 668.17v16.17M1580.28 668.17v16.17M1800.66 668.17v16.17M1074.87 684.34v16.17M1113.18 684.34v16.17M1285.86 684.34v16.17M1430.99 684.34v16.17M1491.8 684.34v16.17M1511.01 684.34v16.17M1543.06 684.34v16.17M1570.95 684.34v16.17M1592.03 684.34v16.17M1618.92 684.34v16.17M1756.2 684.34v16.17M1837.99 684.34v16.17M1223.95 700.51v16.17M1270.94 700.51v16.17M1283.88 700.51v16.17M1342.62 700.51v16.17M1382.14 700.51v16.17M1447.02 700.51v16.17M1762.13 700.51v16.17M1773.1 700.51v16.17M1094.19 716.68v16.17M1134.15 716.68v16.17M1331.86 716.68v16.17M1413.21 716.68v16.17M1512.98 716.68v16.17M1521.33 716.68v16.17M1548.33 716.68v16.17M1708.33 716.68v16.17M1849.73 716.68v16.17M1174.77 732.85v16.17M1218.9 732.85v16.17M1240.64 732.85v16.17M1296.95 732.85v16.17M1368.63 732.85v16.17M1385.87 732.85v16.17M1394.21 732.85v16.17M1418.69 732.85v16.17M1430.88 732.85v16.17M1449.87 732.85v16.17M1485.1 732.85v16.17M1510.24 732.85v16.17M1521.33 732.85v16.17M1551.74 732.85v16.17M1806.04 732.85v16.17M1880.03 732.85v16.17M1080.91 749.01v16.17M1187.84 749.01v16.17M1212.98 749.01v16.17M1250.96 749.01v16.17M1296.95 749.01v16.17M1351.29 749.01v16.17M1433.95 749.01v16.17M1439 749.01v16.17M1444.93 749.01v16.17M1106.16 765.18v16.17M1112.75 765.18v16.17M1147.98 765.18v16.17M1559.64 765.18v16.17M1759.71 765.18v16.17M1833.92 765.18v16.17M1261.28 781.35v16.17M1305.29 781.35v16.17M1398.93 781.35v16.17M1430.11 781.35v16.17M1486.31 781.35v16.17M1692.81 781.35v16.17M1733.36 781.35v16.17M1198.92 797.51v16.17M1229.99 797.51v16.17M1431.1 797.51v16.17M1476.33 797.51v16.17M1806.92 797.51v16.17M1112.75 813.68v16.17M1121.86 813.68v16.17M1128.99 813.68v16.17M1237.79 813.68v16.17M1293.87 813.68v16.17M1408.26 813.68v16.17M1520.01 813.68v16.17M1530 813.68v16.17M1548 813.68v16.17M1591.15 813.68v16.17M1668.22 813.68v16.17M1827.67 813.68v16.17M1847.65 813.68v16.17M1060.16 829.85v16.17M1061.37 829.85v16.17M1120.87 829.85v16.17M1170.49 829.85v16.17M1229.55 829.85v16.17M1246.35 829.85v16.17M1399.15 829.85v16.17M1406.95 829.85v16.17M1418.91 829.85v16.17M1430 829.85v16.17M1539.99 829.85v16.17M1543.94 829.85v16.17M1557.45 829.85v16.17M1561.29 829.85v16.17M1568.97 829.85v16.17M1574.35 829.85v16.17M1576 829.85v16.17M1580.39 829.85v16.17M1585.22 829.85v16.17M1589.72 829.85v16.17M1590.82 829.85v16.17M1596.64 829.85v16.17M1605.64 829.85v16.17M1607.29 829.85v16.17M1608.38 829.85v16.17M1611.13 829.85v16.17M1616.07 829.85v16.17M1619.03 829.85v16.17M1627.05 829.85v16.17M1631.99 829.85v16.17M1641.1 829.85v16.17M1645.71 829.85v16.17M1655.04 829.85v16.17M1660.31 829.85v16.17M1666.57 829.85v16.17M1669.09 829.85v16.17M1677.55 829.85v16.17M1688.53 829.85v16.17M1693.84 829.85v16.17M1694.01 829.85v16.17M1695.49 829.85v16.17M1704.05 829.85v16.17M1707.57 829.85v16.17M1712.51 829.85v16.17M1716.9 829.85v16.17M1724.58 829.85v16.17M1726.23 829.85v16.17M1728.42 829.85v16.17M1730.4 829.85v16.17M1736.66 829.85v16.17M1740.5 829.85v16.17M1743.57 829.85v16.17M1751.48 829.85v16.17M1756.42 829.85v16.17M1758.06 829.85v16.17M1759.71 829.85v16.17M1761.36 829.85v16.17M1765.75 829.85v16.17M1770.69 829.85v16.17M1775.96 829.85v16.17M1783.31 829.85v16.17M1786.06 829.85v16.17M1787.71 829.85v16.17M1797.04 829.85v16.17M1800.88 829.85v16.17M1802.53 829.85v16.17M1808.02 829.85v16.17M1809.66 829.85v16.17M1811.31 829.85v16.17M1817.9 829.85v16.17M1822.29 829.85v16.17M1827.23 829.85v16.17M1830.52 829.85v16.17M1831.84 829.85v16.17M1837.66 829.85v16.17M1847.54 829.85v16.17M1851.93 829.85v16.17M1857.42 829.85v16.17M1859.06 829.85v16.17M1864 829.85v16.17M1873.88 829.85v16.17M1877.73 829.85v16.17M1882.12 829.85v16.17M1884.86 829.85v16.17M1888.16 829.85v16.17M1890.9 829.85v16.17M1895.84 829.85v16.17M1900.23 829.85v16.17M1085.19 846.02v16.17M1111.21 846.02v16.17M1308.69 846.02v16.17M1370.61 846.02v16.17M1406.29 846.02v16.17M1412.88 846.02v16.17M1433.08 846.02v16.17M1458.33 846.02v16.17M1530.99 846.02v16.17M1532.64 846.02v16.17M1548.88 846.02v16.17M1555.14 846.02v16.17M1558.98 846.02v16.17M1572.71 846.02v16.17M1574.13 846.02v16.17M1586.98 846.02v16.17M1596.64 846.02v16.17M1608.17 846.02v16.17M1615.3 846.02v16.17M1621.01 846.02v16.17M1624.85 846.02v16.17M1627.82 846.02v16.17M1639.12 846.02v16.17M1648.13 846.02v16.17M1651.97 846.02v16.17M1664.59 846.02v16.17M1665.8 846.02v16.17M1670.96 846.02v16.17M1677 846.02v16.17M1682.27 846.02v16.17M1687.98 846.02v16.17M1695.27 846.02v16.17M1702.95 846.02v16.17M1706.47 846.02v16.17M1710.09 846.02v16.17M1713.6 846.02v16.17M1715.47 846.02v16.17M1719.42 846.02v16.17M1722.93 846.02v16.17M1728.97 846.02v16.17M1735.01 846.02v16.17M1739.95 846.02v16.17M1743.79 846.02v16.17M1752.03 846.02v16.17M1755.87 846.02v16.17M1757.52 846.02v16.17M1760.26 846.02v16.17M1764.1 846.02v16.17M1769.59 846.02v16.17M1779.47 846.02v16.17M1786.06 846.02v16.17M1791 846.02v16.17M1806.37 846.02v16.17M1811.31 846.02v16.17M1823.93 846.02v16.17M1831.62 846.02v16.17M1838.21 846.02v16.17M1839.85 846.02v16.17M1846.99 846.02v16.17M1866.75 846.02v16.17M1874.43 846.02v16.17M1877.18 846.02v16.17M1878.82 846.02v16.17M1884.86 846.02v16.17M1888.7 846.02v16.17M1893.1 846.02v16.17M1896.39 846.02v16.17M1199.03 862.18v16.17M1290.58 862.18v16.17M1381.7 862.18v16.17M1416.94 862.18v16.17M1433.73 862.18v16.17M1503.76 862.18v16.17M1525.06 862.18v16.17M1543.94 862.18v16.17M1553.6 862.18v16.17M1560.74 862.18v16.17M1573.25 862.18v16.17M1575.78 862.18v16.17M1584.12 862.18v16.17M1591.37 862.18v16.17M1593.02 862.18v16.17M1596.86 862.18v16.17M1602.02 862.18v16.17M1608.17 862.18v16.17M1611.9 862.18v16.17M1619.03 862.18v16.17M1623.21 862.18v16.17M1624.85 862.18v16.17M1626.5 862.18v16.17M1631.44 862.18v16.17M1633.85 862.18v16.17M1637.48 862.18v16.17M1651.75 862.18v16.17M1655.04 862.18v16.17M1660.31 862.18v16.17M1661.63 862.18v16.17M1666.02 862.18v16.17M1669.31 862.18v16.17M1672.61 862.18v16.17M1679.19 862.18v16.17M1681.17 862.18v16.17M1683.04 862.18v16.17M1692.74 862.18v16.17M1692.92 862.18v16.17M1694.34 862.18v16.17M1694.39 862.18v16.17M1697.14 862.18v16.17M1703.72 862.18v16.17M1705.92 862.18v16.17M1713.93 862.18v16.17M1719.09 862.18v16.17M1722.71 862.18v16.17M1730.62 862.18v16.17M1734.46 862.18v16.17M1736.66 862.18v16.17M1745.44 862.18v16.17M1747.96 862.18v16.17M1756.42 862.18v16.17M1767.94 862.18v16.17M1771.02 862.18v16.17M1776.73 862.18v16.17M1780.02 862.18v16.17M1781.67 862.18v16.17M1786.06 862.18v16.17M1789.9 862.18v16.17M1795.17 862.18v16.17M1799.78 862.18v16.17M1804.72 862.18v16.17M1806.92 862.18v16.17M1811.86 862.18v16.17M1820.64 862.18v16.17M1826.68 862.18v16.17M1831.62 862.18v16.17M1832.72 862.18v16.17M1836.01 862.18v16.17M1838.75 862.18v16.17M1844.79 862.18v16.17M1851.38 862.18v16.17M1856.87 862.18v16.17M1859.06 862.18v16.17M1862.91 862.18v16.17M1864.55 862.18v16.17M1865.65 862.18v16.17M1870.04 862.18v16.17M1879.92 862.18v16.17M1887.61 862.18v16.17M1891.45 862.18v16.17M1898.58 862.18v16.17M1136.02 878.35v16.17M1275.65 878.35v16.17M1370.83 878.35v16.17M1516.94 878.35v16.17M1537.69 878.35v16.17M1544.16 878.35v16.17M1565.35 878.35v16.17M1580.72 878.35v16.17M1584.23 878.35v16.17M1585.88 878.35v16.17M1591.37 878.35v16.17M1595.21 878.35v16.17M1600.92 878.35v16.17M1606.74 878.35v16.17M1620.13 878.35v16.17M1627.05 878.35v16.17M1640.77 878.35v16.17M1642.09 878.35v16.17M1649 878.35v16.17M1656.91 878.35v16.17M1659.98 878.35v16.17M1670.41 878.35v16.17M1673.92 878.35v16.17M1677 878.35v16.17M1681.17 878.35v16.17M1690.72 878.35v16.17M1691.1 878.35v16.17M1691.82 878.35v16.17M1704.27 878.35v16.17M1706.25 878.35v16.17M1710.86 878.35v16.17M1727.33 878.35v16.17M1735.23 878.35v16.17M1738.3 878.35v16.17M1740.72 878.35v16.17M1745.99 878.35v16.17M1754.77 878.35v16.17M1755.87 878.35v16.17M1763.55 878.35v16.17M1769.04 878.35v16.17M1775.08 878.35v16.17M1779.47 878.35v16.17M1783.31 878.35v16.17M1787.71 878.35v16.17M1791 878.35v16.17M1798.13 878.35v16.17M1799.78 878.35v16.17M1804.72 878.35v16.17M1809.66 878.35v16.17M1812.41 878.35v16.17M1816.25 878.35v16.17M1820.64 878.35v16.17M1835.46 878.35v16.17M1840.4 878.35v16.17M1846.99 878.35v16.17M1851.38 878.35v16.17M1855.77 878.35v16.17M1859.61 878.35v16.17M1862.91 878.35v16.17M1866.75 878.35v16.17M1870.04 878.35v16.17M1873.34 878.35v16.17M1874.98 878.35v16.17M1887.61 878.35v16.17M1890.35 878.35v16.17M1898.58 878.35v16.17M1100.89 894.52v16.17M1276.53 894.52v16.17M1323.73 894.52v16.17M1534.83 894.52v16.17M1549.98 894.52v16.17M1553.82 894.52v16.17M1565.02 894.52v16.17M1568.09 894.52v16.17M1573.8 894.52v16.17M1577.65 894.52v16.17M1585.33 894.52v16.17M1589.17 894.52v16.17M1595.76 894.52v16.17M1600.15 894.52v16.17M1606.19 894.52v16.17M1611.13 894.52v16.17M1616.07 894.52v16.17M1619.03 894.52v16.17M1623.21 894.52v16.17M1633.09 894.52v16.17M1637.48 894.52v16.17M1641.87 894.52v16.17M1646.81 894.52v16.17M1651.2 894.52v16.17M1653.94 894.52v16.17M1665.14 894.52v16.17M1669.31 894.52v16.17M1681.39 894.52v16.17M1685.23 894.52v16.17M1687.98 894.52v16.17M1701.86 894.52v16.17M1712.51 894.52v16.17M1715.25 894.52v16.17M1719.09 894.52v16.17M1725.13 894.52v16.17M1727.33 894.52v16.17M1730.62 894.52v16.17M1738.3 894.52v16.17M1747.09 894.52v16.17M1751.15 894.52v16.17M1757.52 894.52v16.17M1758.61 894.52v16.17M1763 894.52v16.17M1764.1 894.52v16.17M1768.16 894.52v16.17M1778.37 894.52v16.17M1781.67 894.52v16.17M1783.31 894.52v16.17M1786.06 894.52v16.17M1791 894.52v16.17M1794.84 894.52v16.17M1804.17 894.52v16.17M1806.37 894.52v16.17M1814.05 894.52v16.17M1829.2 894.52v16.17M1834.91 894.52v16.17M1839.3 894.52v16.17M1841.5 894.52v16.17M1847.54 894.52v16.17M1849.18 894.52v16.17M1857.42 894.52v16.17M1861.81 894.52v16.17M1869.49 894.52v16.17M1874.98 894.52v16.17M1876.63 894.52v16.17M1882.67 894.52v16.17M1884.31 894.52v16.17M1892.55 894.52v16.17M1894.19 894.52v16.17M1129.87 910.69v16.17M1187.84 910.69v16.17M1277.08 910.69v16.17M1375.22 910.69v16.17M1414.96 910.69v16.17M1417.82 910.69v16.17M1442.85 910.69v16.17M1485.98 910.69v16.17M1548.33 910.69v16.17M1566.45 910.69v16.17M1568.09 910.69v16.17M1574.35 910.69v16.17M1575.78 910.69v16.17M1580.61 910.69v16.17M1588.62 910.69v16.17M1596.31 910.69v16.17M1600.92 910.69v16.17M1615.52 910.69v16.17M1623.21 910.69v16.17M1627.05 910.69v16.17M1631.44 910.69v16.17M1633.09 910.69v16.17M1634.18 910.69v16.17M1638.57 910.69v16.17M1640.22 910.69v16.17M1648.45 910.69v16.17M1651.2 910.69v16.17M1656.69 910.69v16.17M1659.98 910.69v16.17M1661.63 910.69v16.17M1666.57 910.69v16.17M1671.51 910.69v16.17M1673.16 910.69v16.17M1675.35 910.69v16.17M1681.17 910.69v16.17M1684.68 910.69v16.17M1689.07 910.69v16.17M1690.55 910.69v16.17M1694.01 910.69v16.17M1694.17 910.69v16.17M1699 910.69v16.17M1710.64 910.69v16.17M1716.9 910.69v16.17M1728.42 910.69v16.17M1733.91 910.69v16.17M1741.05 910.69v16.17M1743.79 910.69v16.17M1749.83 910.69v16.17M1754.22 910.69v16.17M1755.87 910.69v16.17M1759.16 910.69v16.17M1767.94 910.69v16.17M1769.59 910.69v16.17M1771.24 910.69v16.17M1777.28 910.69v16.17M1778.92 910.69v16.17M1783.86 910.69v16.17M1787.16 910.69v16.17M1790.78 910.69v16.17M1801.43 910.69v16.17M1804.17 910.69v16.17M1809.66 910.69v16.17M1820.86 910.69v16.17M1831.07 910.69v16.17M1845.34 910.69v16.17M1851.93 910.69v16.17M1857.42 910.69v16.17M1866.75 910.69v16.17M1871.14 910.69v16.17M1873.34 910.69v16.17M1875.53 910.69v16.17M1881.57 910.69v16.17M1885.41 910.69v16.17M1889.25 910.69v16.17M1892 910.69v16.17M1896.39 910.69v16.17M1899.13 910.69v16.17M1900.23 910.69v16.17M1901.33 910.69v16.17M1107.8 926.86v16.17M1219.01 926.86v16.17M1359.85 926.86v16.17M1381.92 926.86v16.17M1520.23 926.86v16.17M1530.99 926.86v16.17M1540.1 926.86v16.17M1546.91 926.86v16.17M1548.88 926.86v16.17M1554.81 926.86v16.17M1559.31 926.86v16.17M1569.41 926.86v16.17M1570.84 926.86v16.17M1578.74 926.86v16.17M1585.33 926.86v16.17M1589.17 926.86v16.17M1594.66 926.86v16.17M1602.9 926.86v16.17M1606.74 926.86v16.17M1612.78 926.86v16.17M1616.07 926.86v16.17M1623.21 926.86v16.17M1628.15 926.86v16.17M1632.54 926.86v16.17M1633.63 926.86v16.17M1637.48 926.86v16.17M1640.77 926.86v16.17M1645.71 926.86v16.17M1650.65 926.86v16.17M1661.08 926.86v16.17M1664.92 926.86v16.17M1669.31 926.86v16.17M1675.02 926.86v16.17M1680.07 926.86v16.17M1684.13 926.86v16.17M1687.98 926.86v16.17M1692.74 926.86v16.17M1693.47 926.86v16.17M1698.23 926.86v16.17M1703.72 926.86v16.17M1711.41 926.86v16.17M1725.13 926.86v16.17M1731.17 926.86v16.17M1733.91 926.86v16.17M1738.3 926.86v16.17M1739.95 926.86v16.17M1749.28 926.86v16.17M1752.58 926.86v16.17M1755.87 926.86v16.17M1759.16 926.86v16.17M1763.55 926.86v16.17M1765.75 926.86v16.17M1771.24 926.86v16.17M1776.18 926.86v16.17M1777.83 926.86v16.17M1783.31 926.86v16.17M1787.71 926.86v16.17M1797.04 926.86v16.17M1804.17 926.86v16.17M1806.37 926.86v16.17M1812.96 926.86v16.17M1814.05 926.86v16.17M1818.99 926.86v16.17M1825.03 926.86v16.17M1832.17 926.86v16.17M1838.75 926.86v16.17M1842.05 926.86v16.17M1846.44 926.86v16.17M1847.76 926.86v16.17M1849.07 926.86v16.17M1850.39 926.86v16.17M1855.77 926.86v16.17M1861.81 926.86v16.17M1868.94 926.86v16.17M1875.53 926.86v16.17M1879.92 926.86v16.17M1886.51 926.86v16.17M1887.61 926.86v16.17M1890.9 926.86v16.17M1892.55 926.86v16.17M1896.94 926.86v16.17M1199.25 943.02v16.17M1324.28 943.02v16.17M1346.24 943.02v16.17M1393.99 943.02v16.17M1412 943.02v16.17M1427.26 943.02v16.17M1525.28 943.02v16.17M1532.85 943.02v16.17M1546.91 943.02v16.17M1557.99 943.02v16.17M1565.57 943.02v16.17M1570.51 943.02v16.17M1572.49 943.02v16.17M1577.98 943.02v16.17M1581.71 943.02v16.17M1586.43 943.02v16.17M1588.07 943.02v16.17M1591.59 943.02v16.17M1596.86 943.02v16.17M1602.9 943.02v16.17M1613.32 943.02v16.17M1623.21 943.02v16.17M1627.05 943.02v16.17M1631.99 943.02v16.17M1633.63 943.02v16.17M1638.57 943.02v16.17M1639.67 943.02v16.17M1644.61 943.02v16.17M1650.65 943.02v16.17M1663.28 943.02v16.17M1664.37 943.02v16.17M1668.76 943.02v16.17M1672.06 943.02v16.17M1678.1 943.02v16.17M1686.33 943.02v16.17M1687.98 943.02v16.17M1695.49 943.02v16.17M1697.68 943.02v16.17M1700.98 943.02v16.17M1704.82 943.02v16.17M1708.44 943.02v16.17M1716.9 943.02v16.17M1720.19 943.02v16.17M1727.87 943.02v16.17M1733.91 943.02v16.17M1739.95 943.02v16.17M1743.79 943.02v16.17M1748.18 943.02v16.17M1753.67 943.02v16.17M1758.06 943.02v16.17M1761.36 943.02v16.17M1763 943.02v16.17M1770.14 943.02v16.17M1771.79 943.02v16.17M1773.98 943.02v16.17M1781.12 943.02v16.17M1786.61 943.02v16.17M1788.25 943.02v16.17M1795.39 943.02v16.17M1798.13 943.02v16.17M1809.66 943.02v16.17M1810.76 943.02v16.17M1812.96 943.02v16.17M1816.03 943.02v16.17M1827.23 943.02v16.17M1831.62 943.02v16.17M1835.79 943.02v16.17M1851.38 943.02v16.17M1858.51 943.02v16.17M1861.81 943.02v16.17M1865.1 943.02v16.17M1871.69 943.02v16.17M1875.53 943.02v16.17M1877.73 943.02v16.17M1881.57 943.02v16.17M1883.22 943.02v16.17M1890.35 943.02v16.17M1891.67 943.02v16.17M1892.99 943.02v16.17M1129.54 959.19v16.17M1212.87 959.19v16.17M1274.88 959.19v16.17M1281.91 959.19v16.17M1363.25 959.19v16.17M1399.92 959.19v16.17M1506.73 959.19v16.17M1517.05 959.19v16.17M1523.3 959.19v16.17M1547.68 959.19v16.17M1552.94 959.19v16.17M1569.41 959.19v16.17M1570.84 959.19v16.17M1576 959.19v16.17M1577.98 959.19v16.17M1580.94 959.19v16.17M1589.17 959.19v16.17M1596.64 959.19v16.17M1602.02 959.19v16.17M1612.23 959.19v16.17M1623.21 959.19v16.17M1627.05 959.19v16.17M1634.18 959.19v16.17M1635.83 959.19v16.17M1651.2 959.19v16.17M1656.91 959.19v16.17M1663.28 959.19v16.17M1667.12 959.19v16.17M1670.41 959.19v16.17M1675.35 959.19v16.17M1678.1 959.19v16.17M1681.94 959.19v16.17M1687.98 959.19v16.17M1693.07 959.19v16.17M1693.47 959.19v16.17M1698.78 959.19v16.17M1702.08 959.19v16.17M1709.21 959.19v16.17M1710.86 959.19v16.17M1713.93 959.19v16.17M1719.42 959.19v16.17M1728.42 959.19v16.17M1731.17 959.19v16.17M1733.91 959.19v16.17M1736.11 959.19v16.17M1744.89 959.19v16.17M1752.58 959.19v16.17M1756.42 959.19v16.17M1763 959.19v16.17M1764.65 959.19v16.17M1771.79 959.19v16.17M1776.73 959.19v16.17M1779.47 959.19v16.17M1783.09 959.19v16.17M1789.35 959.19v16.17M1798.68 959.19v16.17M1800.88 959.19v16.17M1801.98 959.19v16.17M1810.76 959.19v16.17M1814.05 959.19v16.17M1821.19 959.19v16.17M1822.51 959.19v16.17M1825.58 959.19v16.17M1827.23 959.19v16.17M1831.62 959.19v16.17M1837.11 959.19v16.17M1846.44 959.19v16.17M1852.48 959.19v16.17M1856.32 959.19v16.17M1865.1 959.19v16.17M1887.06 959.19v16.17M1890.35 959.19v16.17M1892 959.19v16.17M1895.29 959.19v16.17M1175.54 975.36v16.17M1234.82 975.36v16.17M1374.89 975.36v16.17M1380.71 975.36v16.17M1522.97 975.36v16.17M1539 975.36v16.17M1554.92 975.36v16.17M1562.83 975.36v16.17M1571.06 975.36v16.17M1576 975.36v16.17M1582.04 975.36v16.17M1589.17 975.36v16.17M1591.92 975.36v16.17M1595.21 975.36v16.17M1602.02 975.36v16.17M1615.52 975.36v16.17M1619.91 975.36v16.17M1627.05 975.36v16.17M1628.69 975.36v16.17M1630.89 975.36v16.17M1636.93 975.36v16.17M1642.42 975.36v16.17M1649.55 975.36v16.17M1656.14 975.36v16.17M1659.21 975.36v16.17M1666.57 975.36v16.17M1672.06 975.36v16.17M1673.7 975.36v16.17M1678.1 975.36v16.17M1680.29 975.36v16.17M1689.07 975.36v16.17M1704.05 975.36v16.17M1713.05 975.36v16.17M1728.42 975.36v16.17M1734.46 975.36v16.17M1737.21 975.36v16.17M1738.85 975.36v16.17M1743.79 975.36v16.17M1750.93 975.36v16.17M1755.87 975.36v16.17M1760.26 975.36v16.17M1764.1 975.36v16.17M1765.75 975.36v16.17M1770.14 975.36v16.17M1772.89 975.36v16.17M1778.37 975.36v16.17M1780.02 975.36v16.17M1795.94 975.36v16.17M1801.98 975.36v16.17M1804.72 975.36v16.17M1809.11 975.36v16.17M1812.96 975.36v16.17M1820.09 975.36v16.17M1821.74 975.36v16.17M1825.58 975.36v16.17M1828.87 975.36v16.17M1837.66 975.36v16.17M1842.05 975.36v16.17M1844.79 975.36v16.17M1848.63 975.36v16.17M1856.87 975.36v16.17M1859.06 975.36v16.17M1860.71 975.36v16.17M1866.2 975.36v16.17M1874.43 975.36v16.17M1877.18 975.36v16.17M1881.02 975.36v16.17M1886.51 975.36v16.17M1894.19 975.36v16.17M1896.94 975.36v16.17M1073.88 991.53v16.17M1107.91 991.53v16.17M1157.87 991.53v16.17M1178.17 991.53v16.17M1223.84 991.53v16.17M1270.72 991.53v16.17M1277.08 991.53v16.17M1286.3 991.53v16.17M1318.02 991.53v16.17M1319.34 991.53v16.17M1393.66 991.53v16.17M1419.57 991.53v16.17M1455.03 991.53v16.17M1475.78 991.53v16.17M1507.17 991.53v16.17M1546.69 991.53v16.17M1565.57 991.53v16.17M1567 991.53v16.17M1600.04 991.53v16.17M1631.77 991.53v16.17M1638.14 991.53v16.17M1667.67 991.53v16.17M1684.68 991.53v16.17M1685.78 991.53v16.17M1696.26 991.53v16.17M1698.78 991.53v16.17M1700.1 991.53v16.17M1712.83 991.53v16.17M1713.93 991.53v16.17M1756.2 991.53v16.17M1774.86 991.53v16.17M1777.06 991.53v16.17M1783.09 991.53v16.17M1802.2 991.53v16.17M1822.07 991.53v16.17M1862.69 991.53v16.17M1874.43 991.53v16.17M1881.57 991.53v16.17M1890.02 991.53v16.17M1898.91 991.53v16.17M1075.86 1007.69v16.17M1077.51 1007.69v16.17M1122.74 1007.69v16.17M1146.67 1007.69v16.17M1163.68 1007.69v16.17M1168.95 1007.69v16.17M1211.22 1007.69v16.17M1219.89 1007.69v16.17M1224.06 1007.69v16.17M1228.67 1007.69v16.17M1246.68 1007.69v16.17M1262.49 1007.69v16.17M1285.97 1007.69v16.17M1407.83 1007.69v16.17M1418.91 1007.69v16.17M1460.74 1007.69v16.17M1524.95 1007.69v16.17M1531.1 1007.69v16.17M1539 1007.69v16.17M1541.97 1007.69v16.17M1570.07 1007.69v16.17M1577.1 1007.69v16.17M1618.92 1007.69v16.17M1622.33 1007.69v16.17M1626.94 1007.69v16.17M1639.89 1007.69v16.17M1667.12 1007.69v16.17M1678.75 1007.69v16.17M1709.76 1007.69v16.17M1725.35 1007.69v16.17M1761.14 1007.69v16.17M1783.86 1007.69v16.17M1794.84 1007.69v16.17M1804.17 1007.69v16.17M1823.06 1007.69v16.17M1831.07 1007.69v16.17M1859.06 1007.69v16.17M1871.36 1007.69v16.17M1883.76 1007.69v16.17M1070.7 1023.86v16.17M1084.2 1023.86v16.17M1126.58 1023.86v16.17M1153.8 1023.86v16.17M1155.12 1023.86v16.17M1156.44 1023.86v16.17M1157.32 1023.86v16.17M1174.66 1023.86v16.17M1236.91 1023.86v16.17M1261.72 1023.86v16.17M1275.1 1023.86v16.17M1347.67 1023.86v16.17M1351.84 1023.86v16.17M1360.95 1023.86v16.17M1386.97 1023.86v16.17M1396.3 1023.86v16.17M1421.33 1023.86v16.17M1427.26 1023.86v16.17M1435.82 1023.86v16.17M1461.29 1023.86v16.17M1467.11 1023.86v16.17M1502.99 1023.86v16.17M1534.61 1023.86v16.17M1548 1023.86v16.17M1562.28 1023.86v16.17M1576.88 1023.86v16.17M1578.74 1023.86v16.17M1581.93 1023.86v16.17M1591.7 1023.86v16.17M1603.22 1023.86v16.17M1611.24 1023.86v16.17M1616.07 1023.86v16.17M1617.72 1023.86v16.17M1633.41 1023.86v16.17M1635.06 1023.86v16.17M1687.98 1023.86v16.17M1691.6 1023.86v16.17M1699.88 1023.86v16.17M1726.01 1023.86v16.17M1747.75 1023.86v16.17M1783.42 1023.86v16.17M1800.11 1023.86v16.17M1813.07 1023.86v16.17M1828.76 1023.86v16.17M1836.89 1023.86v16.17M1852.04 1023.86v16.17M1855 1023.86v16.17M1861.92 1023.86v16.17M1869.82 1023.86v16.17M1188.93 1040.03v16.17M1209.9 1040.03v16.17M1229.77 1040.03v16.17M1251.95 1040.03v16.17M1309.79 1040.03v16.17M1382.47 1040.03v16.17M1383.56 1040.03v16.17M1400.03 1040.03v16.17M1430.33 1040.03v16.17M1470.29 1040.03v16.17M1496.74 1040.03v16.17M1515.95 1040.03v16.17M1517.6 1040.03v16.17M1572.71 1040.03v16.17M1596.53 1040.03v16.17M1606.96 1040.03v16.17M1625.62 1040.03v16.17M1628.91 1040.03v16.17M1654.27 1040.03v16.17M1669.97 1040.03v16.17M1688.2 1040.03v16.17M1694.94 1040.03v16.17M1699.88 1040.03v16.17M1724.91 1040.03v16.17M1750.93 1040.03v16.17M1752.25 1040.03v16.17M1772.01 1040.03v16.17M1778.92 1040.03v16.17M1798.9 1040.03v16.17M1854.67 1040.03v16.17M1875.64 1040.03v16.17M1885.74 1040.03v16.17M1888.92 1040.03v16.17M1900.23 1040.03v16.17M1901 1040.03v16.17M1068.61 1056.2v16.17M1118.67 1056.2v16.17M1167.09 1056.2v16.17M1173.89 1056.2v16.17M1193.87 1056.2v16.17M1212.76 1056.2v16.17M1214.18 1056.2v16.17M1226.26 1056.2v16.17M1227.58 1056.2v16.17M1229.77 1056.2v16.17M1246.68 1056.2v16.17M1262.16 1056.2v16.17M1299.25 1056.2v16.17M1312.86 1056.2v16.17M1318.79 1056.2v16.17M1335.26 1056.2v16.17M1344.81 1056.2v16.17M1372.04 1056.2v16.17M1374.01 1056.2v16.17M1401.13 1056.2v16.17M1406.29 1056.2v16.17M1413.97 1056.2v16.17M1427.7 1056.2v16.17M1429.67 1056.2v16.17M1435.6 1056.2v16.17M1447.79 1056.2v16.17M1493.66 1056.2v16.17M1495.31 1056.2v16.17M1496.74 1056.2v16.17M1560.96 1056.2v16.17M1579.84 1056.2v16.17M1592.91 1056.2v16.17M1610.03 1056.2v16.17M1614.42 1056.2v16.17M1661.96 1056.2v16.17M1669.09 1056.2v16.17M1674.03 1056.2v16.17M1675.13 1056.2v16.17M1705.04 1056.2v16.17M1716.02 1056.2v16.17M1739.07 1056.2v16.17M1760.04 1056.2v16.17M1782 1056.2v16.17M1788.03 1056.2v16.17M1793.74 1056.2v16.17M1807.03 1056.2v16.17M1810.76 1056.2v16.17M1826.24 1056.2v16.17M1833.59 1056.2v16.17M1834.91 1056.2v16.17M1837.88 1056.2v16.17M1843.69 1056.2v16.17M1844.79 1056.2v16.17M1884.97 1056.2v16.17M1087.71 1072.36v16.17M1120.21 1072.36v16.17M1138.21 1072.36v16.17M1180.92 1072.36v16.17M1183.99 1072.36v16.17M1244.37 1072.36v16.17M1246.02 1072.36v16.17M1287.07 1072.36v16.17M1335.26 1072.36v16.17M1337.24 1072.36v16.17M1338.33 1072.36v16.17M1389.93 1072.36v16.17M1399.81 1072.36v16.17M1422.87 1072.36v16.17M1439 1072.36v16.17M1448.12 1072.36v16.17M1514.74 1072.36v16.17M1517.81 1072.36v16.17M1540.87 1072.36v16.17M1589.28 1072.36v16.17M1596.86 1072.36v16.17M1602.02 1072.36v16.17M1603.22 1072.36v16.17M1634.29 1072.36v16.17M1651.97 1072.36v16.17M1657.57 1072.36v16.17M1658.88 1072.36v16.17M1677 1072.36v16.17M1678.1 1072.36v16.17M1704.05 1072.36v16.17M1764.98 1072.36v16.17M1771.02 1072.36v16.17M1789.02 1072.36v16.17M1802.2 1072.36v16.17M1820.97 1072.36v16.17M1824.81 1072.36v16.17M1841.83 1072.36v16.17M1846.99 1072.36v16.17M1136.9 1088.53v16.17M1163.68 1088.53v16.17M1185.64 1088.53v16.17M1191.24 1088.53v16.17M1240.64 1088.53v16.17M1280.04 1088.53v16.17M1284.98 1088.53v16.17M1301.23 1088.53v16.17M1307.71 1088.53v16.17M1329.99 1088.53v16.17M1339.76 1088.53v16.17M1351.29 1088.53v16.17M1390.15 1088.53v16.17M1391.58 1088.53v16.17M1442.85 1088.53v16.17M1444.16 1088.53v16.17M1495.2 1088.53v16.17M1501.79 1088.53v16.17M1524.95 1088.53v16.17M1537.69 1088.53v16.17M1541.2 1088.53v16.17M1547.13 1088.53v16.17M1577.87 1088.53v16.17M1592.03 1088.53v16.17M1612.78 1088.53v16.17M1670.63 1088.53v16.17M1676.23 1088.53v16.17M1688.09 1088.53v16.17M1746.98 1088.53v16.17M1756.75 1088.53v16.17M1769.04 1088.53v16.17M1770.14 1088.53v16.17M1774.09 1088.53v16.17M1776.95 1088.53v16.17M1786.72 1088.53v16.17M1816.8 1088.53v16.17M1819.76 1088.53v16.17M1838.53 1088.53v16.17M1840.95 1088.53v16.17M1857.09 1088.53v16.17M1081.02 1104.7v16.17M1171.92 1104.7v16.17M1215.28 1104.7v16.17M1240.31 1104.7v16.17M1280.26 1104.7v16.17M1292.34 1104.7v16.17M1299.03 1104.7v16.17M1300.35 1104.7v16.17M1342.94 1104.7v16.17M1359.96 1104.7v16.17M1399.7 1104.7v16.17M1415.73 1104.7v16.17M1426.16 1104.7v16.17M1449.98 1104.7v16.17M1451.08 1104.7v16.17M1463.7 1104.7v16.17M1467.33 1104.7v16.17M1509.03 1104.7v16.17M1587.75 1104.7v16.17M1601.91 1104.7v16.17M1604.98 1104.7v16.17M1612.78 1104.7v16.17M1648.67 1104.7v16.17M1658.77 1104.7v16.17M1677.77 1104.7v16.17M1682.93 1104.7v16.17M1699.99 1104.7v16.17M1752.9 1104.7v16.17M1758.94 1104.7v16.17M1761.91 1104.7v16.17M1769.7 1104.7v16.17M1782.98 1104.7v16.17M1801.1 1104.7v16.17M1804.17 1104.7v16.17M1833.16 1104.7v16.17M1838.75 1104.7v16.17M1839.85 1104.7v16.17M1851.05 1104.7v16.17M1858.84 1104.7v16.17M1859.94 1104.7v16.17M1897.27 1104.7v16.17M1108.57 1120.87v16.17M1124.71 1120.87v16.17M1179.16 1120.87v16.17M1214.51 1120.87v16.17M1219.12 1120.87v16.17M1234.6 1120.87v16.17M1310.67 1120.87v16.17M1319.67 1120.87v16.17M1347.89 1120.87v16.17M1439 1120.87v16.17M1456.02 1120.87v16.17M1461.62 1120.87v16.17M1467 1120.87v16.17M1545.04 1120.87v16.17M1551.74 1120.87v16.17M1591.81 1120.87v16.17M1598.72 1120.87v16.17M1602.02 1120.87v16.17M1618.92 1120.87v16.17M1627.05 1120.87v16.17M1628.15 1120.87v16.17M1645.05 1120.87v16.17M1653.72 1120.87v16.17M1664.15 1120.87v16.17M1669.09 1120.87v16.17M1672.17 1120.87v16.17M1677.55 1120.87v16.17M1681.39 1120.87v16.17M1682.27 1120.87v16.17M1699.11 1120.87v16.17M1714.04 1120.87v16.17M1738.74 1120.87v16.17M1763.99 1120.87v16.17M1774.2 1120.87v16.17M1805.16 1120.87v16.17M1824.26 1120.87v16.17M1838.31 1120.87v16.17M1844.79 1120.87v16.17M1847.98 1120.87v16.17M1855.99 1120.87v16.17M1875.97 1120.87v16.17M1896.28 1120.87v16.17M1061.92 1137.03v16.17M1130.09 1137.03v16.17M1158.19 1137.03v16.17M1169.72 1137.03v16.17M1171.04 1137.03v16.17M1227.03 1137.03v16.17M1249.64 1137.03v16.17M1252.94 1137.03v16.17M1257.88 1137.03v16.17M1287.94 1137.03v16.17M1293.87 1137.03v16.17M1301.01 1137.03v16.17M1352.83 1137.03v16.17M1366 1137.03v16.17M1380.6 1137.03v16.17M1412.11 1137.03v16.17M1454.37 1137.03v16.17M1473.26 1137.03v16.17M1493.99 1137.03v16.17M1497.94 1137.03v16.17M1537.69 1137.03v16.17M1561.95 1137.03v16.17M1571.83 1137.03v16.17M1586.43 1137.03v16.17M1587.86 1137.03v16.17M1618.05 1137.03v16.17M1620.79 1137.03v16.17M1622.11 1137.03v16.17M1629.57 1137.03v16.17M1634.4 1137.03v16.17M1642.64 1137.03v16.17M1645.93 1137.03v16.17M1674.25 1137.03v16.17M1675.35 1137.03v16.17M1763.22 1137.03v16.17M1777.83 1137.03v16.17M1780.02 1137.03v16.17M1789.35 1137.03v16.17M1810.98 1137.03v16.17M1845.89 1137.03v16.17M1853.03 1137.03v16.17M1868.07 1137.03v16.17M1869.49 1137.03v16.17M1871.91 1137.03v16.17" stroke="#231f20" stroke-width="1.6" fill="none" clip-path="url(#ce)"/>
<line x1="1059.1" y1="991.53" x2="1902" y2="991.53" stroke="#231f20" stroke-width="1.8" stroke-linecap="butt"/>
<line x1="1059.1" y1="829.85" x2="1902" y2="829.85" stroke="#231f20" stroke-width="1.8" stroke-linecap="butt"/>
<line x1="1059.1" y1="668.17" x2="1902" y2="668.17" stroke="#231f20" stroke-width="1.8" stroke-linecap="butt"/>
<rect x="1059.1" y="506.5" width="842.9" height="646.7" fill="none" stroke="#231f20" stroke-width="2" stroke-linejoin="round"/>
<line x1="1480.55" y1="506.5" x2="1480.55" y2="1154.2" stroke="#2e2b7e" stroke-width="7.4" stroke-linecap="butt"/>
<text x="1047.48" y="1199.4" font-size="41.7">0</text>
<text x="1222.7" y="1199.4" font-size="41.7">1000</text>
<text x="1433.95" y="1199.4" font-size="41.7">2000</text>
<text x="1644.94" y="1199.4" font-size="41.7">3000</text>
<text x="1855.97" y="1199.4" font-size="41.7">4000</text>
<text x="1047.31" y="1168.6" font-size="41.7" text-anchor="end">0</text>
<text x="1047.36" y="1006.93" font-size="41.7" text-anchor="end">10</text>
<text x="1047.36" y="845.25" font-size="41.7" text-anchor="end">20</text>
<text x="1043.66" y="683.57" font-size="41.7" text-anchor="end">30</text>
<text x="1047.36" y="521.9" font-size="41.7" text-anchor="end">40</text>
<text x="962" y="909.04" font-size="41.7" transform="rotate(-90 962 909.04)" textLength="157.39" lengthAdjust="spacingAndGlyphs">Neurons</text>
<text x="1386.96" y="1241.1" font-size="41.7" textLength="186.63" lengthAdjust="spacingAndGlyphs">Time (ms)</text>
<text x="1913.43" y="602" font-size="41.7" textLength="81.76" lengthAdjust="spacingAndGlyphs">NSp</text>
<text x="1913.38" y="763.8" font-size="41.7" textLength="54.6" lengthAdjust="spacingAndGlyphs">D2</text>
<text x="1913.75" y="925.5" font-size="41.7" textLength="48.79" lengthAdjust="spacingAndGlyphs">D1</text>
<text x="1913" y="1087.5" font-size="41.7" textLength="91.43" lengthAdjust="spacingAndGlyphs">Inhib</text>
</svg>
</body></html>
